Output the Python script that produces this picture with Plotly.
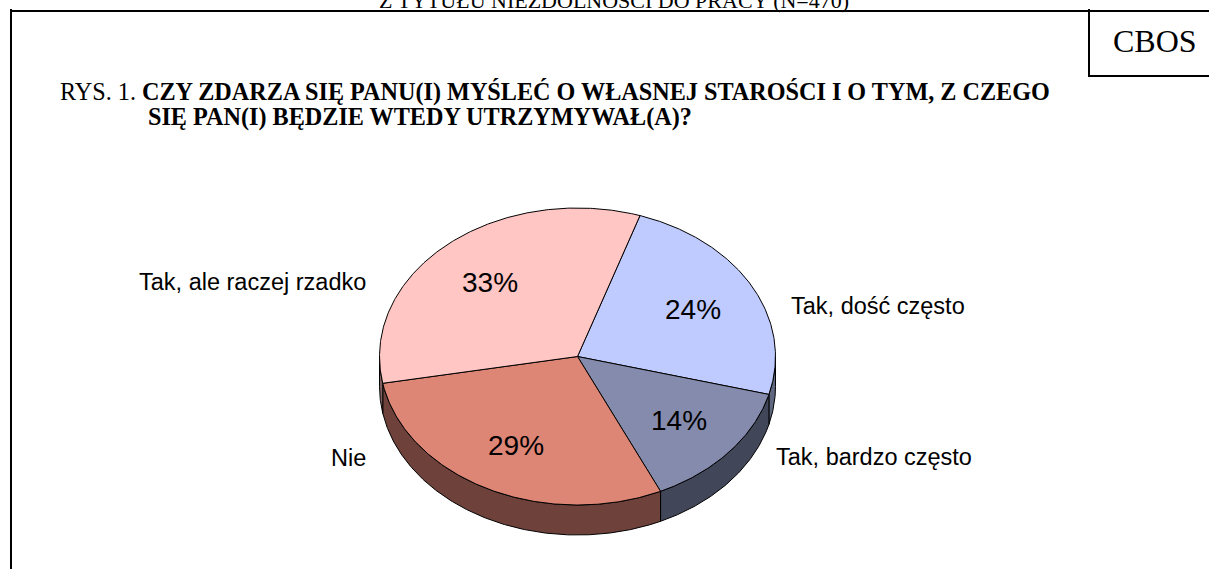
import numpy as np
import plotly.graph_objects as go

categories = ["Tak, dość często", "Tak, bardzo często", "Nie", "Tak, ale raczej rzadko"]
values = [24, 14, 29, 33]
top_colors = ["#BFCBFF", "#858BAD", "#DE8676", "#FFC6C4"]
side_colors = ["#5F6680", "#424659", "#6E423B", "#80605F"]
label_pos = [(788.5, 306, "left"), (773.5, 457, "left"), (368, 458, "right"), (368, 282, "right")]
pct_pos = [(693, 309), (679, 420), (516, 445), (490, 282)]

CX, CY, RX, RY, DEPTH = 577.5, 356.5, 198.0, 148.5, 30.0
START = 18.4

fig = go.Figure()


def pt(a, dy=0.0):
    r = np.radians(a)
    return CX + RX * np.sin(r), CY - RY * np.cos(r) + dy


def arc(a0, a1, dy=0.0):
    n = max(int(abs(a1 - a0)) * 2, 2)
    return pt(np.linspace(a0, a1, n), dy)


def poly(x, y, fill):
    fig.add_trace(go.Scatter(x=x, y=y, mode="lines", fill="toself", fillcolor=fill,
                             line=dict(color="#000000", width=1), hoverinfo="skip", showlegend=False))


edges = START + np.concatenate([[0], np.cumsum(values)]) * 360.0 / sum(values)

# side wall of the disc: only the part of the rim that faces the viewer
for i in range(len(values)):
    a0, a1 = max(edges[i], 90.0), min(edges[i + 1], 270.0)
    if a1 > a0:
        x0, y0 = arc(a0, a1)
        x1, y1 = arc(a1, a0, DEPTH)
        poly(np.r_[x0, x1, x0[0]], np.r_[y0, y1, y0[0]], side_colors[i])

# top face
for i in range(len(values)):
    x0, y0 = arc(edges[i], edges[i + 1])
    poly(np.r_[CX, x0, CX], np.r_[CY, y0, CY], top_colors[i])

# category labels and percentages
for name, (x, y, side) in zip(categories, label_pos):
    fig.add_annotation(x=x, y=y, text=name, showarrow=False, xanchor=side, yanchor="middle",
                       font=dict(family="Liberation Sans", size=23.5, color="#000000"))
for v, (x, y) in zip(values, pct_pos):
    fig.add_annotation(x=x, y=y, text=f"{v}%", showarrow=False, xanchor="center", yanchor="middle",
                       font=dict(family="Liberation Sans", size=28, color="#000000"))

# frame
frame = [((10, 11), (1209, 11), 2), ((11, 9), (11, 569), 2),
         ((1089, 9), (1089, 76), 2), ((1088, 76), (1209, 76), 2)]
for (x0, y0), (x1, y1), w in frame:
    fig.add_shape(type="line", x0=x0, y0=y0, x1=x1, y1=y1, line=dict(color="#000000", width=w))

serif = "Liberation Serif"
texts = [
    (614, 0, "Z TYTUŁU NIEZDOLNOŚCI DO PRACY (N=470)", "center", 22),
    (1155, 41, "CBOS", "center", 32),
    (58, 92, "RYS. 1. <b>CZY ZDARZA SIĘ PANU(I) MYŚLEĆ O WŁASNEJ STAROŚCI I O TYM, Z CZEGO</b>", "left", 24.2),
    (145.5, 117, "<b>SIĘ PAN(I) BĘDZIE WTEDY UTRZYMYWAŁ(A)?</b>", "left", 24.2),
]
for x, y, t, anchor, size in texts:
    fig.add_annotation(x=x, y=y, text=t, showarrow=False, xanchor=anchor, yanchor="middle",
                       font=dict(family=serif, size=size, color="#000000"))

fig.update_layout(
    width=1209, height=569, margin=dict(l=0, r=0, t=0, b=0),
    paper_bgcolor="#FFFFFF", plot_bgcolor="#FFFFFF", showlegend=False,
    xaxis=dict(range=[0, 1209], visible=False, fixedrange=True),
    yaxis=dict(range=[569, 0], visible=False, fixedrange=True),
)
fig.write_html("out.html", config={"displayModeBar": False},
               post_script="document.body.style.margin='0';document.body.style.overflow='hidden';")
